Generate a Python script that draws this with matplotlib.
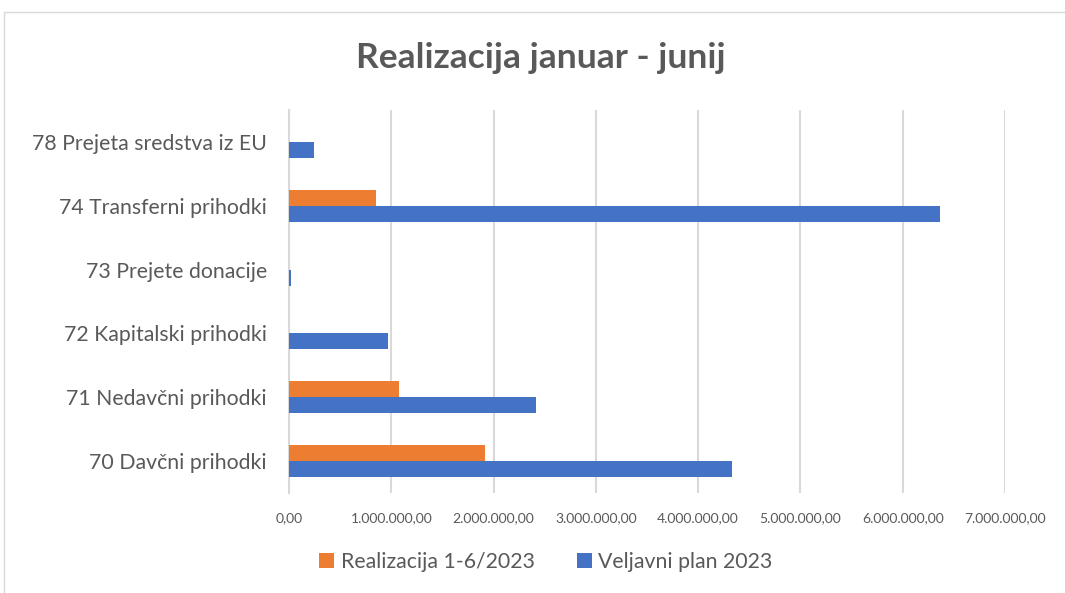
import matplotlib
matplotlib.use("Agg")
import matplotlib.pyplot as plt
import numpy as np
from matplotlib.ticker import FuncFormatter
from matplotlib.patches import Rectangle

categories = ["70 Davčni prihodki", "71 Nedavčni prihodki", "72 Kapitalski prihodki",
              "73 Prejete donacije", "74 Transferni prihodki", "78 Prejeta sredstva iz EU"]
realizacija = [1920000, 1075000, 0, 0, 847000, 0]
plan = [4330000, 2410000, 965000, 15000, 6360000, 245000]
series_names = ["Realizacija 1-6/2023", "Veljavni plan 2023"]
xticks = [0, 1e6, 2e6, 3e6, 4e6, 5e6, 6e6, 7e6]

plt.rcParams['font.family'] = ['Lato', 'DejaVu Sans']
gray = '#595959'
fig = plt.figure(figsize=(10.65, 5.93), dpi=100)
ax = fig.add_axes([289/1065, 1-493/593, (1005-289)/1065, (493-110)/593])

y = np.arange(len(categories))
h = 0.25
ax.barh(y + h/2, realizacija, height=h, color='#ED7D31', label=series_names[0], zorder=3)
ax.barh(y - h/2, plan, height=h, color='#4472C4', label=series_names[1], zorder=3)

ax.set_xlim(0, 7e6)
ax.set_ylim(-0.5, len(categories) - 0.5)
ax.set_yticks(y)
ax.set_yticklabels(categories, fontsize=15.3, color=gray)
ax.set_xticks(xticks)
def fmt(v, pos):
    s = f"{v:,.2f}"
    return s.replace(",", "X").replace(".", ",").replace("X", ".")
ax.xaxis.set_major_formatter(FuncFormatter(fmt))
ax.tick_params(axis='x', labelsize=10, colors=gray, length=0, pad=14)
ax.tick_params(axis='y', length=0, pad=16)
ax.grid(axis='x', color='#d9d9d9', linewidth=1.5, zorder=0)
for s in ['top', 'right', 'bottom']:
    ax.spines[s].set_visible(False)
ax.spines['left'].set_color('#d9d9d9')
ax.spines['left'].set_linewidth(1.5)

fig.text(541/1065, 1-58/593, "Realizacija januar - junij", ha='center', va='center',
         fontsize=25.5, fontweight='bold', color=gray)

handles, labels = ax.get_legend_handles_labels()
leg = fig.legend(handles, labels, loc='center', bbox_to_anchor=(546/1065, 1-562/593), ncol=2,
                 frameon=False, fontsize=15.3, handlelength=0.7, handleheight=0.7,
                 handletextpad=0.3, columnspacing=2.0, labelcolor=gray)

fig.patches.append(Rectangle((4/1065, -0.1), 1.2, 1-12/593+0.1, transform=fig.transFigure,
                             fill=False, edgecolor='#d9d9d9', linewidth=1))
fig.savefig("out.png", dpi=100)
